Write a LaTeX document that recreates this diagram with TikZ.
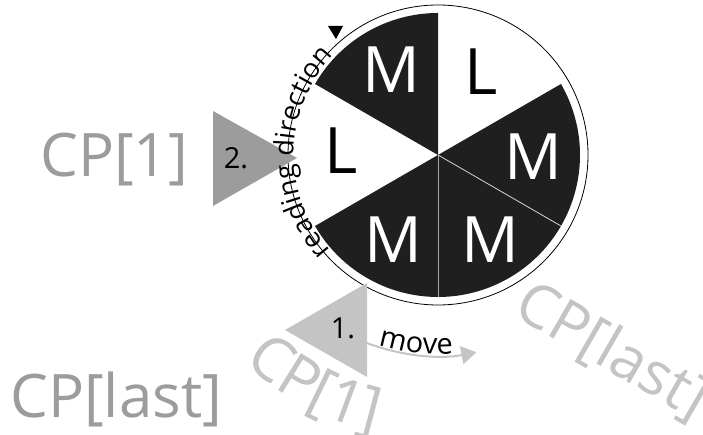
\documentclass[tikz,border=0pt]{standalone}
\usepackage{fontspec}
\setmainfont{Open Sans}
\usetikzlibrary{decorations.text,arrows.meta}
\definecolor{wedge}{HTML}{1F1F1F}
\definecolor{cpdark}{HTML}{9C9C9C}
\definecolor{cplight}{HTML}{C4C4C4}
\tikzset{
  bigletter/.style={font=\fontsize{64}{64}\selectfont,inner sep=0pt},
  cplabel/.style={font=\fontsize{60}{60}\selectfont,inner sep=0pt},
  steplabel/.style={font=\fontsize{29}{29}\selectfont,inner sep=0pt},
  sepline/.style={line width=0.8pt},
  movearrow/.style={draw=cplight,line width=2pt,-{Triangle[length=15pt,width=18pt]}}
}
\begin{document}
\begin{tikzpicture}[x=1pt,y=1pt]
    \useasboundingbox (0,0) rectangle (703,435);
    \coordinate (c) at (438,280);
    % labels behind the wheel
    \path[decorate,decoration={text along path,text align=center,
      text={|\fontsize{61}{61}\selectfont\color{cplight}|CP[1]}}]
      ([shift={(222:284)}]c) arc[start angle=222,end angle=262,radius=284];
    \node[cplabel,text=cplight,rotate=-30] (cplastr) at (612,83) {CP[last]};
    \node[cplabel,text=cpdark,anchor=base west] (cpfirst) at (40,258) {CP[1]};
    \node[cplabel,text=cpdark,anchor=base west] (cplast) at (10,17) {CP[last]};
    % wheel
    \fill[wedge] (c) -- ++(90:142) arc[start angle=90,end angle=150,radius=142] -- cycle;
    \fill[wedge] (c) -- ++(-30:142) arc[start angle=-30,end angle=30,radius=142] -- cycle;
    \fill[wedge] (c) -- ++(-90:142) arc[start angle=-90,end angle=-30,radius=142] -- cycle;
    \fill[wedge] (c) -- ++(-150:142) arc[start angle=-150,end angle=-90,radius=142] -- cycle;
    \draw[sepline,gray!35] (c) -- ++(-30:142);
    \draw[sepline,gray!70] (c) -- ++(-90:142);
    \draw[line width=0.8pt] (c) circle[radius=150];
    \node[bigletter,text=white] (m1) at (391,365) {M};
    \node[bigletter] (l1) at (481,363) {L};
    \node[bigletter,text=white] (m2) at (533,278) {M};
    \node[bigletter,text=white] (m3) at (490,195) {M};
    \node[bigletter,text=white] (m4) at (393,195) {M};
    \node[bigletter] (l2) at (341,284) {L};
    % read and move steps
    \fill[cpdark] (213,324) -- (213,229) -- (297,277) -- cycle;
    \fill[cplight] (367,152) -- (367,58) -- (285,105) -- cycle;
    \node[steplabel] (two) at (236,277) {2.};
    \node[steplabel] (one) at (343,107) {1.};
    \fill (328,409) -- (343,409) -- (336,396) -- cycle;
    \path[decorate,decoration={text along path,text align=center,
      text={|\fontsize{27}{27}\selectfont|reading direction}}]
      ([shift={(226:144)}]c) arc[start angle=226,end angle=132,radius=144];
    \coordinate (mvstart) at ([shift={(249:201)}]c);
    \draw[movearrow] (mvstart) arc[start angle=249,end angle=281,radius=201];
    \path[decorate,decoration={text along path,text align=center,
      text={|\fontsize{29}{29}\selectfont|move}}]
      ([shift={(241.5:199)}]c) arc[start angle=241.5,end angle=285.5,radius=199];
\end{tikzpicture}
\end{document}
